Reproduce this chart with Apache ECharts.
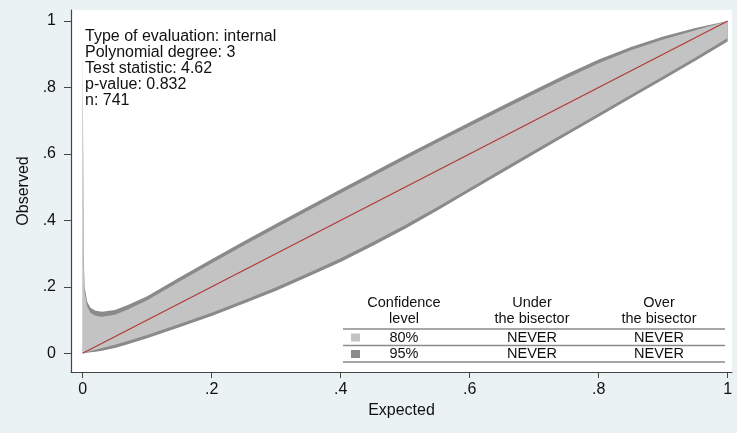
<!DOCTYPE html>
<html>
<head>
<meta charset="utf-8">
<script src="https://cdn.jsdelivr.net/npm/echarts@6/dist/echarts.min.js"></script>
<style>html,body{margin:0;padding:0;background:#EAF2F3;}#c{width:737px;height:433px;}</style>
</head>
<body>
<div id="c"></div>
<script>
// ---- data ----
const xs      = [0, 0.0015, 0.003, 0.007, 0.012, 0.02, 0.03, 0.05, 0.07, 0.1, 0.15, 0.2, 0.25, 0.3, 0.35, 0.4, 0.45, 0.5, 0.55, 0.6, 0.65, 0.7, 0.75, 0.8, 0.85, 0.9, 0.95, 1.0];
const upper95 = [0.93, 0.30, 0.20, 0.155, 0.137, 0.128, 0.125, 0.130, 0.145, 0.172, 0.228, 0.283, 0.337, 0.390, 0.442, 0.494, 0.545, 0.596, 0.646, 0.695, 0.744, 0.792, 0.840, 0.884, 0.922, 0.953, 0.979, 1.0];
const upper80 = [0.85, 0.27, 0.185, 0.141, 0.122, 0.113, 0.110, 0.116, 0.132, 0.160, 0.216, 0.271, 0.325, 0.378, 0.430, 0.482, 0.533, 0.584, 0.634, 0.683, 0.732, 0.780, 0.828, 0.873, 0.912, 0.944, 0.972, 1.0];
const lower80 = [0.0, 0.001, 0.002, 0.004, 0.007, 0.011, 0.016, 0.026, 0.037, 0.055, 0.088, 0.122, 0.160, 0.199, 0.242, 0.286, 0.335, 0.386, 0.440, 0.497, 0.554, 0.610, 0.666, 0.722, 0.778, 0.834, 0.890, 0.949];
const lower95 = [0.0, 0.0, 0.001, 0.002, 0.003, 0.005, 0.008, 0.016, 0.027, 0.045, 0.078, 0.112, 0.150, 0.188, 0.231, 0.275, 0.324, 0.375, 0.430, 0.487, 0.543, 0.600, 0.656, 0.712, 0.768, 0.824, 0.880, 0.938];
const bisector = [[0, 0], [1, 1]];
const tickValues = [0, 0.2, 0.4, 0.6, 0.8, 1];
const tickLabels = ['0', '.2', '.4', '.6', '.8', '1'];
const infoLines = ['Type of evaluation: internal', 'Polynomial degree: 3', 'Test statistic: 4.62', 'p-value: 0.832', 'n: 741'];
const legendHeader = [['Confidence', 'level'], ['Under', 'the bisector'], ['Over', 'the bisector']];
const legendLevels = ['80%', '95%'];
const legendUnder = ['NEVER', 'NEVER'];
const legendOver = ['NEVER', 'NEVER'];

// ---- styles ----
const C80 = '#c3c3c3', C95 = '#8a8a8a', RED = '#b23a3a', AX = '#444', TXT = '#111';
const FONT = '"Liberation Sans", Arial, Helvetica, sans-serif';

function band(upper, lower, color, z) {
  return {
    type: 'custom', coordinateSystem: 'cartesian2d', silent: true, z: z, clip: true,
    data: [[0, 0]],
    renderItem: function (params, api) {
      const pts = [];
      for (let i = 0; i < xs.length; i++) pts.push(api.coord([xs[i], upper[i]]));
      for (let i = xs.length - 1; i >= 0; i--) pts.push(api.coord([xs[i], lower[i]]));
      return { type: 'polygon', shape: { points: pts }, style: { fill: color } };
    }
  };
}

const fmt = v => { const i = tickValues.findIndex(t => Math.abs(t - v) < 1e-9); return i >= 0 ? tickLabels[i] : ''; };

// legend table graphics
const g = [];
infoLines.forEach((t, i) => g.push({ type: 'text', x: 85, y: 37 + 16 * i, style: { text: t, font: '16px ' + FONT, fill: TXT, textVerticalAlign: 'middle' } }));
const colX = [404, 532, 659];
legendHeader.forEach((h, c) => h.forEach((t, r) => g.push({ type: 'text', x: colX[c], y: 303 + 15.6 * r, style: { text: t, font: '14.5px ' + FONT, fill: TXT, textAlign: 'center', textVerticalAlign: 'middle' } })));
[329, 345.5, 362].forEach(y => g.push({ type: 'line', shape: { x1: 343, y1: y, x2: 725, y2: y }, style: { stroke: '#8a8a8a', lineWidth: 1.4 } }));
const rowY = [337.5, 354];
const rowC = [C80, C95];
legendLevels.forEach((t, r) => {
  g.push({ type: 'rect', shape: { x: 351, y: rowY[r] - 4, width: 9, height: 8 }, style: { fill: rowC[r] } });
  g.push({ type: 'text', x: colX[0], y: rowY[r], style: { text: t, font: '14.5px ' + FONT, fill: TXT, textAlign: 'center', textVerticalAlign: 'middle' } });
  g.push({ type: 'text', x: colX[1], y: rowY[r], style: { text: legendUnder[r], font: '14.5px ' + FONT, fill: TXT, textAlign: 'center', textVerticalAlign: 'middle' } });
  g.push({ type: 'text', x: colX[2], y: rowY[r], style: { text: legendOver[r], font: '14.5px ' + FONT, fill: TXT, textAlign: 'center', textVerticalAlign: 'middle' } });
});

const chart = echarts.init(document.getElementById('c'), null, { renderer: 'canvas' });
chart.setOption({
  animation: false,
  backgroundColor: '#EAF2F3',
  textStyle: { fontFamily: FONT },
  grid: { left: 71, right: 5, top: 10, bottom: 61, show: true, backgroundColor: '#ffffff', borderWidth: 0 },
  xAxis: {
    type: 'value', min: -0.0181, max: 1.0067,
    name: 'Expected', nameLocation: 'middle', nameGap: 28,
    nameTextStyle: { fontSize: 16, color: TXT, fontFamily: FONT },
    axisLine: { show: true, onZero: false, lineStyle: { color: AX, width: 1.2 } },
    axisTick: { show: true, length: 6, customValues: tickValues, lineStyle: { color: AX } },
    axisLabel: { customValues: tickValues, formatter: fmt, fontSize: 16, color: TXT, margin: 10, fontFamily: FONT },
    splitLine: { show: false }
  },
  yAxis: {
    type: 'value', min: -0.0563, max: 1.0331,
    name: 'Observed', nameLocation: 'middle', nameGap: 39,
    nameTextStyle: { fontSize: 16, color: TXT, fontFamily: FONT },
    axisLine: { show: true, onZero: false, lineStyle: { color: AX, width: 1.2 } },
    axisTick: { show: true, length: 7, customValues: tickValues, lineStyle: { color: AX } },
    axisLabel: { customValues: tickValues, formatter: fmt, fontSize: 16, color: TXT, margin: 15, fontFamily: FONT },
    splitLine: { show: false }
  },
  series: [
    band(upper95, lower95, C95, 1),
    band(upper80, lower80, C80, 2),
    { type: 'line', data: bisector, showSymbol: false, silent: true, z: 3, lineStyle: { color: RED, width: 1.3 } }
  ],
  graphic: g
});
</script>
</body>
</html>
